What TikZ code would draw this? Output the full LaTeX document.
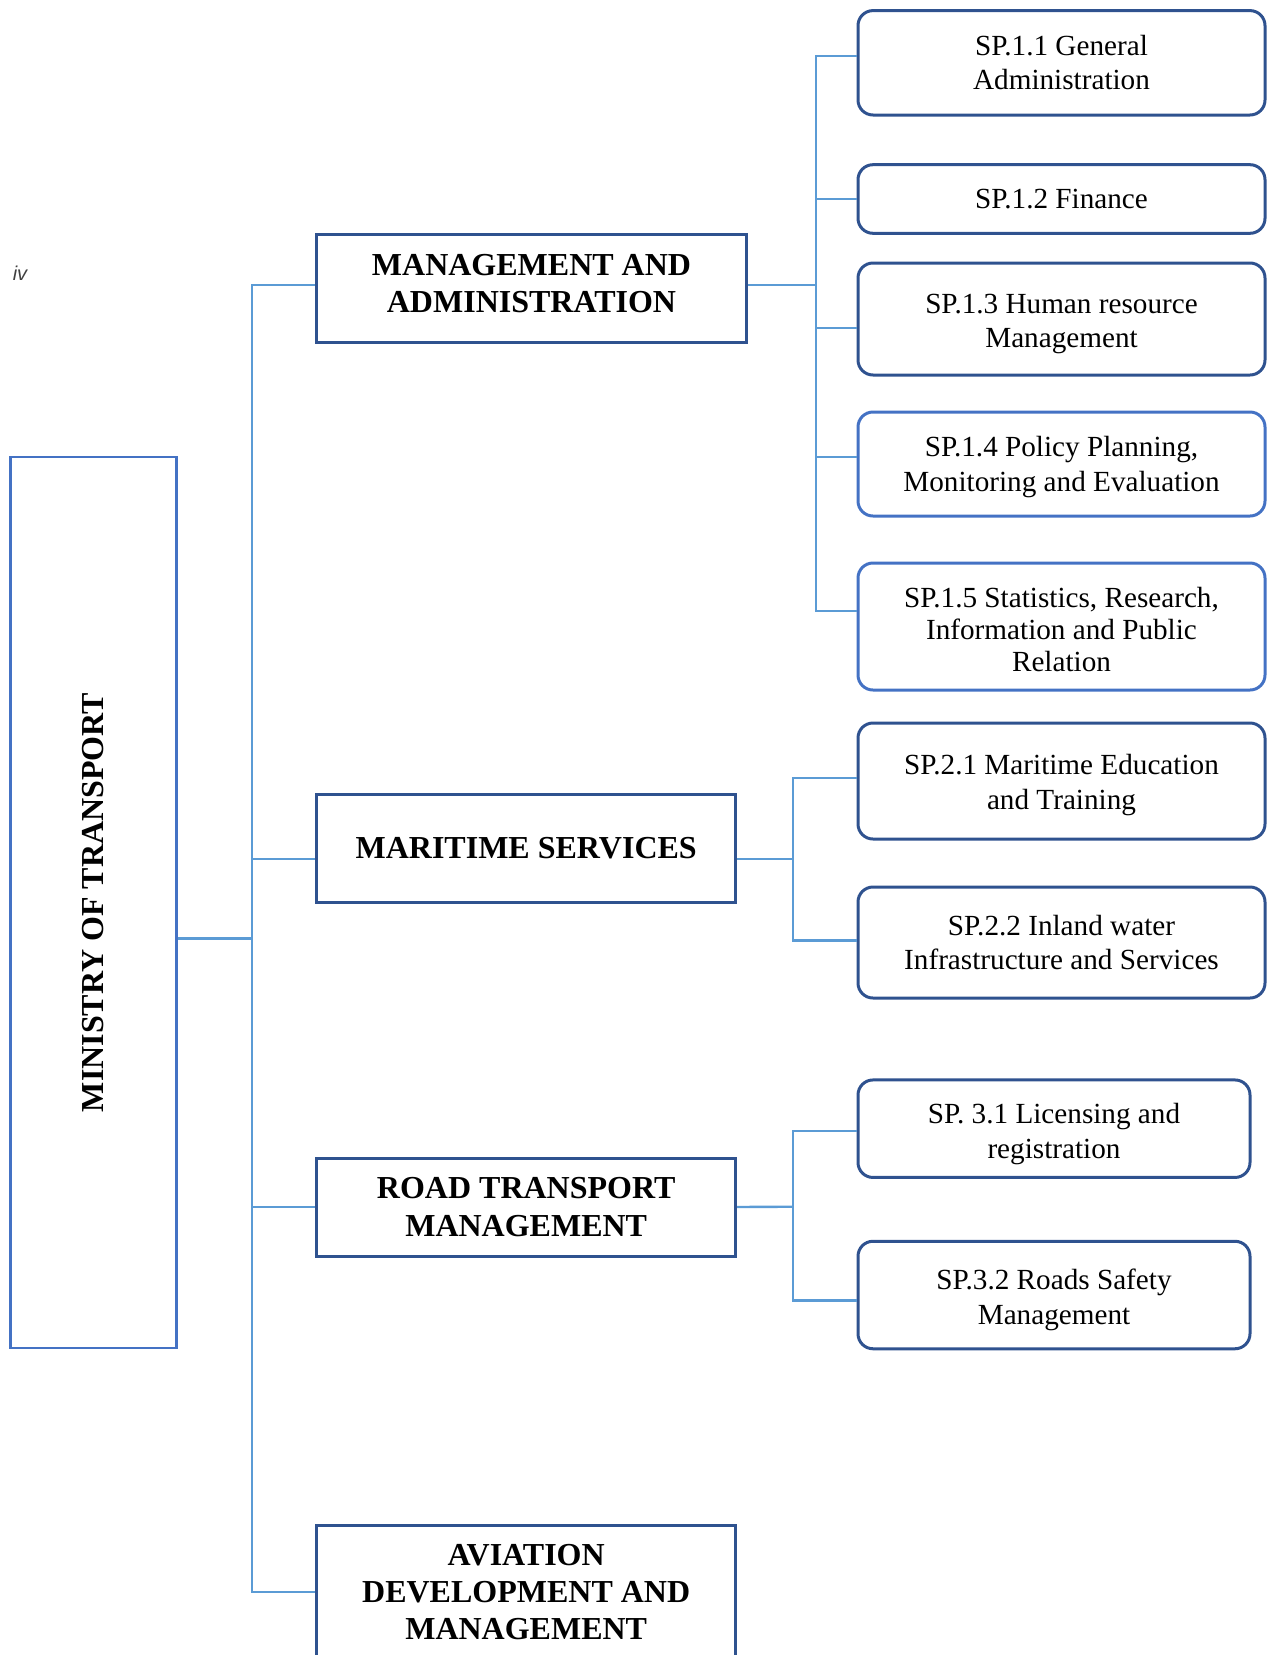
\documentclass[tikz,border=0pt]{standalone}
\usepackage{fontspec}
\setmainfont{Liberation Serif}
\newfontfamily\pagefont{Liberation Sans}
\usepackage{tikz}

\definecolor{boxblue}{HTML}{2F528F}
\definecolor{midblue}{HTML}{4472C4}
\definecolor{linkblue}{HTML}{5B9BD5}

\begin{document}
\begin{tikzpicture}[x=0.5pt, y=-0.5pt,
    box/.style={draw=boxblue, line width=1.5pt, align=center, inner sep=0pt,
      font=\fontsize{16}{18.7}\selectfont\bfseries},
    sub/.style={draw=boxblue, line width=1.5pt, rounded corners=7.5pt, align=center,
      inner sep=0pt, minimum width=203.5pt, font=\fontsize{14.6}{17.2}\selectfont},
    link/.style={draw=linkblue, line width=1.2pt}]
      % page size
      \useasboundingbox (0,0) rectangle (1269,1655);

      % page number
      \node[font=\pagefont\itshape\fontsize{10}{12}\selectfont, text=black!75] (pageno) at (20,273) {iv};

      % Ministry
      \node[box, draw=midblue, line width=1.25pt, rotate=90, minimum width=445.5pt, minimum height=83pt]
        (ministry) at (93.5,902.5) {MINISTRY OF TRANSPORT};

      % Programmes
      \node[box, text depth=4.75pt, minimum width=215pt, minimum height=54pt] (ma) at (531.5,288) {MANAGEMENT AND\\ADMINISTRATION};
      \node[box, minimum width=209.5pt, minimum height=54.3pt] (ms) at (526.2,848.3) {MARITIME SERVICES};
      \node[box, minimum width=209.5pt, minimum height=49pt] (rt) at (526.2,1207) {ROAD TRANSPORT\\MANAGEMENT};
      \node[box, minimum width=209.5pt, minimum height=67pt] (avi) at (526.2,1592) {AVIATION\\DEVELOPMENT AND\\MANAGEMENT};

      % Sub-programmes 1
      \node[sub, minimum height=52.2pt] (sp11) at (1061.5,62.8) {SP.1.1 General\\Administration};
      \node[sub, minimum height=34.3pt] (sp12) at (1061.5,199) {SP.1.2 Finance};
      \node[sub, text height=31.8pt, minimum height=56pt] (sp13) at (1061.5,319) {SP.1.3 Human resource\\Management};
      \node[sub, text height=30.4pt, draw=midblue, minimum height=52pt] (sp14) at (1061.5,464) {SP.1.4 Policy Planning,\\Monitoring and Evaluation};
      \node[sub, text height=44.8pt, draw=midblue, minimum height=63.5pt, font=\fontsize{14.6}{15.8}\selectfont] (sp15) at (1061.5,626.5)
        {SP.1.5 Statistics, Research,\\Information and Public\\Relation};

      % Sub-programmes 2
      \node[sub, text height=31.4pt, minimum height=58pt] (sp21) at (1061.5,781) {SP.2.1 Maritime Education\\and Training};
      \node[sub, minimum height=55.5pt] (sp22) at (1061.5,942.5) {SP.2.2 Inland water\\Infrastructure and Services};

      % Sub-programmes 3
      \node[sub, text height=32.5pt, minimum width=196pt, minimum height=48.75pt] (sp31) at (1054,1128.7) {SP. 3.1 Licensing and\\registration};
      \node[sub, text height=32.5pt, minimum width=196pt, minimum height=53.75pt] (sp32) at (1054,1295) {SP.3.2 Roads Safety\\Management};

      % Trunk
      \coordinate (trunk) at (252,938.5);
      \draw[link] ([yshift=-18pt]ministry.south) -- (trunk);
      \draw[link] ([yshift=1.5pt]ma.west) -| (trunk);
      \draw[link] ([yshift=-5.35pt]ms.west) -| (trunk);
      \draw[link] (rt.west) -| (trunk);
      \draw[link] (avi.west) -| (trunk);

      % Bus 1
      \coordinate (mabus) at (816,285);
      \draw[link] ([yshift=1.5pt]ma.east) -- (mabus);
      \draw[link] ([yshift=3.4pt]sp11.west) -| (mabus);
      \draw[link] (sp12.west) -| (mabus);
      \draw[link] ([yshift=-4.5pt]sp13.west) -| (mabus);
      \draw[link] ([yshift=3.5pt]sp14.west) -| (mabus);
      \draw[link] ([yshift=7.75pt]sp15.west) -| (mabus);

      % Bus 2
      \coordinate (msbus) at (793,859);
      \draw[link] ([yshift=-5.35pt]ms.east) -- (msbus);
      \draw[link] ([yshift=1.5pt]sp21.west) -| (msbus);
      \draw[link] ([yshift=1pt]sp22.west) -| (msbus);

      % Bus 3
      \coordinate (rtbus) at (793,1206.7);
      \draw[link] (rt.east) -- (rtbus);
      \draw[link] ([yshift=-1pt]sp31.west) -| (rtbus);
      \draw[link] ([yshift=-2.8pt]sp32.west) -| (rtbus);
    \end{tikzpicture}
\end{document}
